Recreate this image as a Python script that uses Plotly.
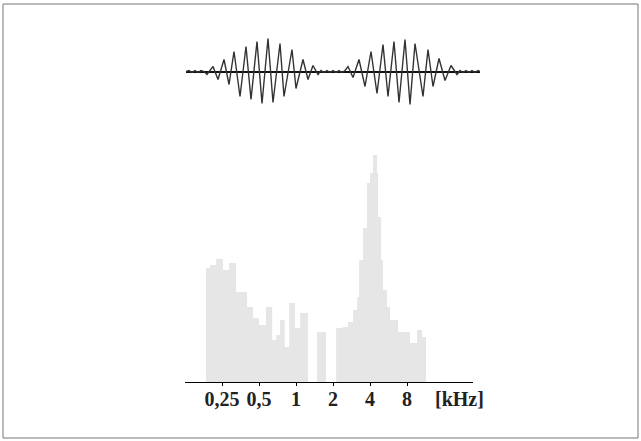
import math
import plotly.graph_objects as go

# ---- waveform (top): extrema (time units, amplitude units)
wave_t = [186, 189, 192, 195, 198, 201, 204, 207, 213, 218, 224, 229, 234, 240, 246, 251,
          257, 262, 268, 273, 280, 284, 292, 296, 303, 308, 313, 318, 321, 324, 327, 330,
          333, 336, 339, 342, 345, 348, 353, 359, 365, 371, 377, 383, 388, 394, 399, 405,
          410, 415, 423, 428, 433, 439, 445, 451, 457, 460, 463, 466, 469, 472, 475, 478, 480]
wave_amp = [0, 1, -1, 1, -1, 1, 0, -3, 5, -8, 12, -13, 20, -25, 25, -28,
            30, -32, 33, -31, 28, -25, 22, -17, 12, -8, 6, -3, 1, -1, 1, -1,
            1, -1, 1, -1, 1, 5, -6, 12, -15, 20, -22, 27, -25, 30, -31, 32,
            -33, 28, -25, 22, -15, 13, -9, 6, -3, 1, -1, 1, -1, 1, -1, 1, 0]

# ---- spectrum (bottom): bin edges in kHz and levels (relative units)
bin_edges_khz = [0.185, 0.20, 0.224, 0.255, 0.285, 0.325, 0.40, 0.447, 0.50, 0.57, 0.64,
                 0.69, 0.74, 0.81, 0.88, 0.98, 1.08, 1.25, 1.48, 1.75, 2.12, 2.41, 2.65,
                 2.91, 3.14, 3.26, 3.51, 3.78, 4.0, 4.23, 4.56, 4.65, 4.92, 5.10, 5.50,
                 5.82, 6.76, 8.46, 9.65, 10.6, 11.4]
bin_levels = [114, 117, 123, 112, 119, 90, 75, 64, 57, 75, 42, 47, 62, 35, 79, 54, 69,
              0, 50, 0, 54, 55, 60, 72, 85, 122, 154, 199, 209, 227, 209, 165, 122, 92,
              75, 62, 50, 39, 52, 45]

tick_vals = [0.25, 0.5, 1, 2, 4, 8]
tick_text = ["0,25", "0,5", "1", "2", "4", "8"]
unit_label = "[kHz]"

W, H = 641, 441

def px(x):
    return x / W

def py(y):
    return 1 - y / H

fig = go.Figure()

fig.add_trace(go.Scatter(
    x=bin_edges_khz, y=bin_levels + [bin_levels[-1]],
    mode="lines", line=dict(shape="hv", width=0, color="#e6e6e6"),
    fill="tozeroy", fillcolor="#e6e6e6", xaxis="x", yaxis="y",
    hoverinfo="skip", showlegend=False))

fig.add_trace(go.Scatter(
    x=wave_t, y=wave_amp, mode="lines",
    line=dict(color="#333333", width=1.4),
    xaxis="x2", yaxis="y2", showlegend=False))

fig.update_layout(
    width=W, height=H,
    margin=dict(l=0, r=0, t=0, b=0),
    paper_bgcolor="white", plot_bgcolor="rgba(0,0,0,0)",
    xaxis=dict(
        type="log", domain=[px(185), px(473)],
        range=[math.log10(0.125), math.log10(27.5)],
        showline=True, linecolor="black", linewidth=1,
        showgrid=False, zeroline=False,
        tickvals=tick_vals, ticktext=tick_text,
        ticks="outside", ticklen=3, tickcolor="black",
        ticklabelstandoff=-4,
        tickfont=dict(family="Liberation Serif", size=20, color="#222", weight="bold"),
        anchor="y"),
    yaxis=dict(
        domain=[py(382), py(150)], range=[0, 232],
        visible=False, showgrid=False, zeroline=False),
    xaxis2=dict(
        domain=[px(186), px(480)], range=[186, 480],
        visible=False, showgrid=False, anchor="y2"),
    yaxis2=dict(
        domain=[py(106.5), py(36.5)], range=[-35, 35],
        showgrid=False, showticklabels=False, zeroline=True,
        zerolinecolor="#111", zerolinewidth=2, anchor="x2"),
    annotations=[dict(
        x=math.log10(21.2), y=0, xref="x", yref="y", yshift=-17,
        text=unit_label, showarrow=False, xanchor="center", yanchor="middle",
        font=dict(family="Liberation Serif", size=20, color="#222", weight="bold"))],
    shapes=[dict(type="rect", xref="paper", yref="paper",
                 x0=px(3), x1=px(638), y0=py(438), y1=py(4),
                 line=dict(color="#777", width=1))],
)

fig.write_html("out.html", config={"displayModeBar": False},
               post_script="document.body.style.margin='0px';")
